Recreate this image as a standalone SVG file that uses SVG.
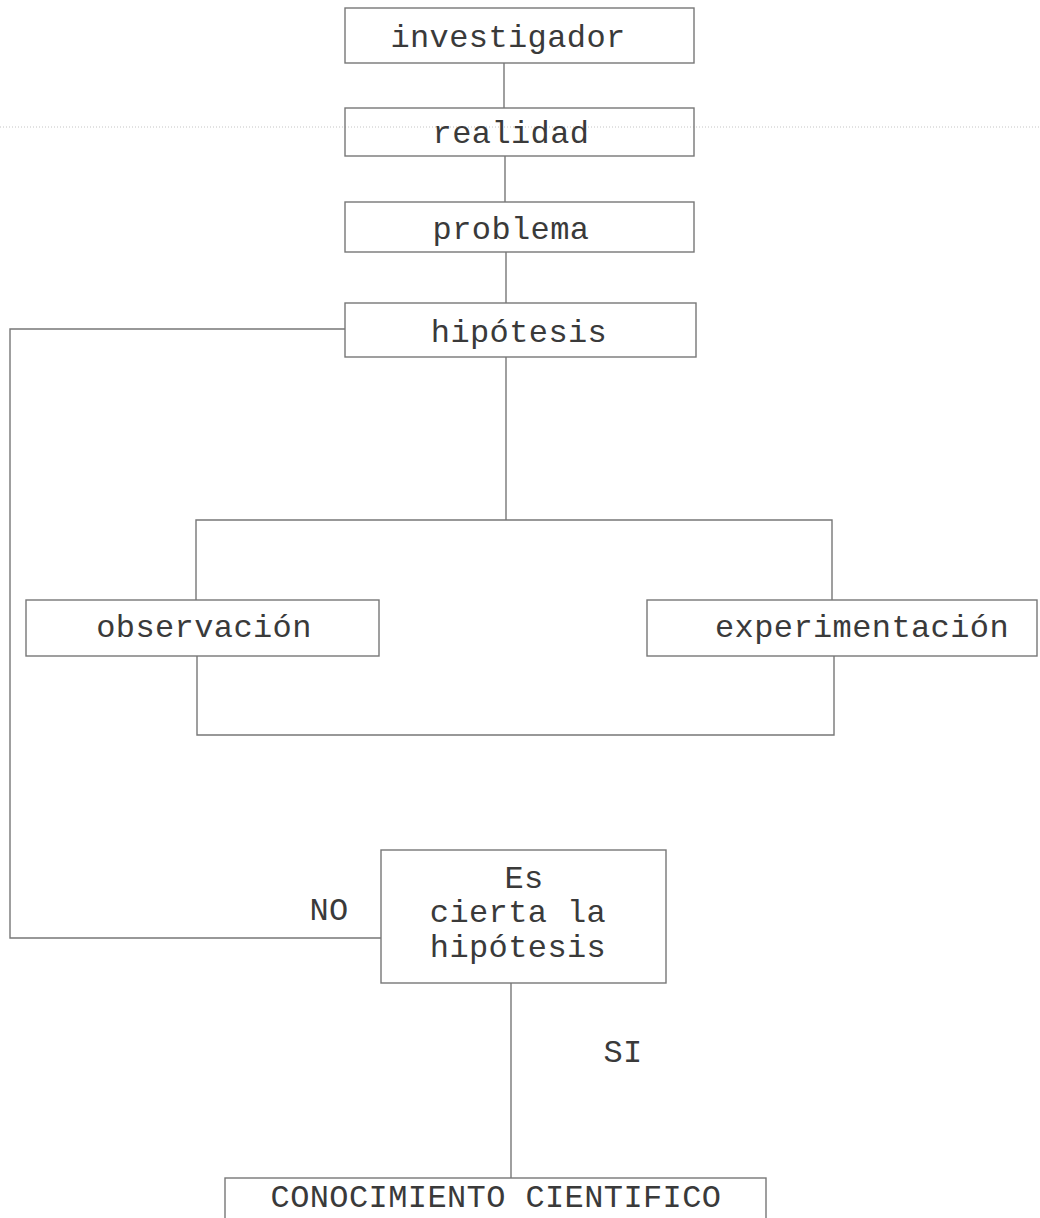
<svg xmlns="http://www.w3.org/2000/svg" width="1040" height="1218" viewBox="0 0 1040 1218">
<style>
.box{fill:none;stroke:#777;stroke-width:1.4}
.ln{fill:none;stroke:#777;stroke-width:1.4}
.t{font-family:"Liberation Mono","Courier New",monospace;font-size:32px;fill:#3a3a3a;text-anchor:middle;letter-spacing:0.4px}
.scan{stroke:#c4c4c4;stroke-width:1;stroke-dasharray:1 2}
</style>
<rect width="1040" height="1218" fill="#fff"/>
<line class="scan" x1="0" y1="127" x2="1040" y2="127"/>
<g id="connectors">
<line class="ln" x1="504" y1="63" x2="504" y2="108"/>
<line class="ln" x1="505" y1="156" x2="505" y2="202"/>
<line class="ln" x1="506" y1="252" x2="506" y2="303"/>
<polyline class="ln" points="345,329 10,329 10,938 381,938"/>
<line class="ln" x1="506" y1="357" x2="506" y2="520"/>
<polyline class="ln" points="196,600 196,520 832,520 832,600"/>
<polyline class="ln" points="197,656 197,735 834,735 834,656"/>
<line class="ln" x1="511" y1="983" x2="511" y2="1178"/>
</g>
<g id="investigador"><rect class="box" x="345" y="8" width="349" height="55"/><text class="t" x="508" y="47">investigador</text></g>
<g id="realidad"><rect class="box" x="345" y="108" width="349" height="48"/><text class="t" x="511" y="143">realidad</text></g>
<g id="problema"><rect class="box" x="345" y="202" width="349" height="50"/><text class="t" x="511" y="239">problema</text></g>
<g id="hipotesis"><rect class="box" x="345" y="303" width="351" height="54"/><text class="t" x="519" y="342">hipótesis</text></g>
<g id="observacion"><rect class="box" x="26" y="600" width="353" height="56"/><text class="t" x="204" y="637">observación</text></g>
<g id="experimentacion"><rect class="box" x="647" y="600" width="390" height="56"/><text class="t" x="862" y="637">experimentación</text></g>
<g id="decision"><rect class="box" x="381" y="850" width="285" height="133"/><text class="t" x="524" y="888">Es</text><text class="t" x="518" y="922">cierta la</text><text class="t" x="518" y="957">hipótesis</text></g>
<text class="t" x="329" y="920">NO</text>
<text class="t" x="623" y="1062">SI</text>
<g id="conocimiento"><rect class="box" x="225" y="1178" width="541" height="60"/><text class="t" x="496" y="1207">CONOCIMIENTO CIENTIFICO</text></g>
</svg>
